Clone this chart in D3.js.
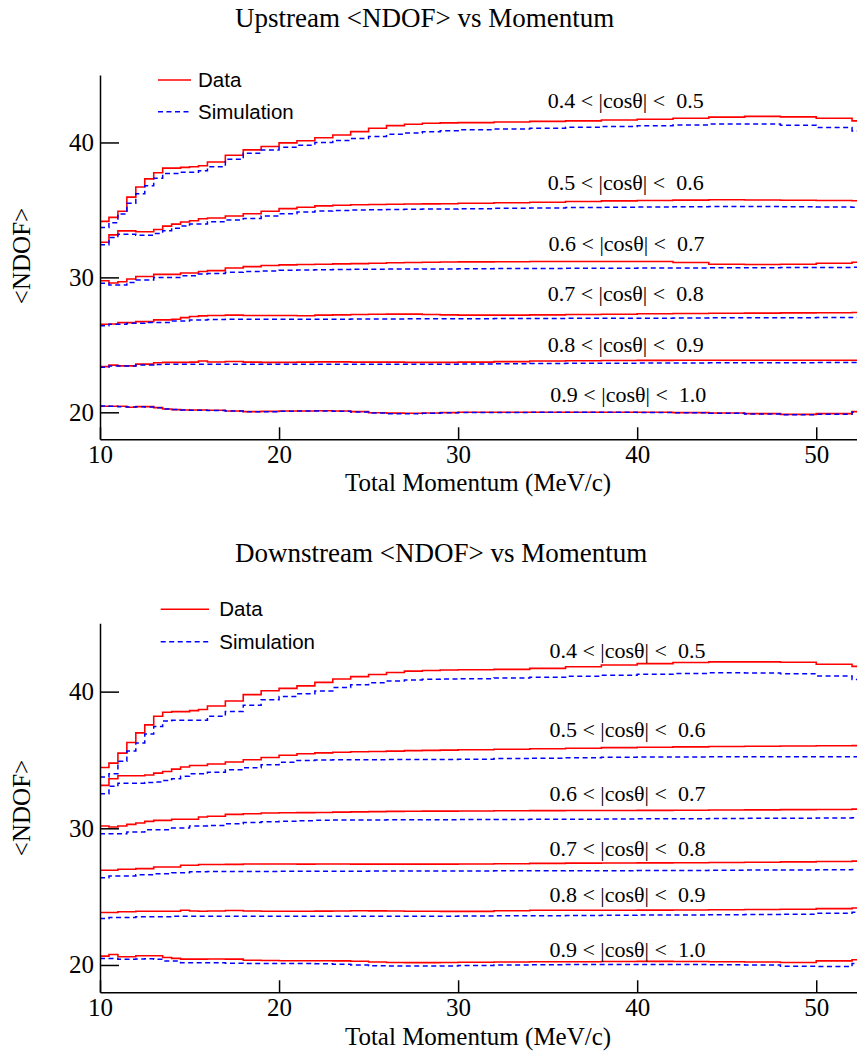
<!DOCTYPE html>
<html><head><meta charset="utf-8">
<script src="https://cdn.jsdelivr.net/npm/d3@7/dist/d3.min.js"></script>
<style>body{margin:0;background:#fff}svg text{white-space:pre}</style>
</head><body>
<svg id="c" width="857" height="1053"></svg>
<script>
// ---------- data ----------
const binEdges = [10,10.5,11,11.5,12,12.5,13,13.5,14,14.5,15,15.5,16,17,18,19,20,21,22,23,24,25,26,27,28,29,30,32,34,36,38,40,42,44,46,48,50,52,52.5];
const categories = ["0.4 < |cosθ| <  0.5","0.5 < |cosθ| <  0.6","0.6 < |cosθ| <  0.7","0.7 < |cosθ| <  0.8","0.8 < |cosθ| <  0.9","0.9 < |cosθ| <  1.0"];
const seriesNames = ["Data","Simulation"];
const xTicks = [10,20,30,40,50];
const yTicks = [20,30,40];
const labelYUp = [42.55,36.45,31.92,28.28,24.5,20.8];
const labelYDown = [42.45,36.7,32.0,27.95,24.6,20.6];

const up_data_04 = [34.15,34.45,34.9,35.95,36.7,37.3,37.75,38.1,38.1,38.15,38.2,38.27,38.55,39.05,39.45,39.7,39.97,40.13,40.35,40.55,40.8,41.05,41.25,41.35,41.42,41.45,41.47,41.52,41.56,41.6,41.66,41.72,41.8,41.88,41.93,41.9,41.8,41.6];
const up_sim_04  = [33.7,34.05,34.7,35.5,36.2,36.8,37.35,37.7,37.7,37.8,37.8,37.9,38.2,38.75,39.2,39.45,39.65,39.8,40.0,40.15,40.3,40.45,40.6,40.7,40.8,40.87,40.95,41.0,41.06,41.12,41.18,41.24,41.3,41.36,41.36,41.28,41.1,40.85];
const up_data_05 = [32.6,33.15,33.45,33.45,33.38,33.38,33.55,33.8,33.95,34.1,34.2,34.35,34.4,34.55,34.72,34.9,35.1,35.2,35.3,35.35,35.38,35.4,35.42,35.44,35.45,35.46,35.5,35.53,35.57,35.62,35.67,35.7,35.73,35.75,35.74,35.72,35.7,35.68];
const up_sim_05  = [32.42,32.96,33.2,33.2,33.13,33.13,33.26,33.46,33.65,33.8,33.95,33.95,34.12,34.25,34.37,34.55,34.72,34.85,34.92,34.96,35.0,35.02,35.04,35.05,35.06,35.07,35.09,35.12,35.15,35.18,35.2,35.22,35.24,35.25,35.25,35.23,35.21,35.2];
const up_data_06 = [29.75,29.58,29.68,29.88,30.07,30.07,30.22,30.22,30.22,30.32,30.32,30.44,30.5,30.7,30.8,30.88,30.93,30.95,30.97,31.0,31.02,31.05,31.08,31.1,31.12,31.14,31.15,31.16,31.18,31.18,31.18,31.18,31.1,30.97,30.95,30.97,31.05,31.12];
const up_sim_06  = [29.56,29.43,29.43,29.63,29.8,29.8,30.0,30.0,30.0,30.12,30.12,30.25,30.28,30.38,30.43,30.47,30.52,30.54,30.56,30.58,30.6,30.61,30.62,30.62,30.63,30.63,30.64,30.65,30.66,30.67,30.68,30.69,30.7,30.71,30.72,30.73,30.74,30.75];
const up_data_07 = [26.53,26.55,26.65,26.65,26.72,26.72,26.85,26.85,26.9,27.02,27.1,27.15,27.17,27.2,27.18,27.18,27.17,27.16,27.2,27.22,27.25,27.27,27.28,27.28,27.25,27.22,27.2,27.2,27.22,27.25,27.27,27.3,27.32,27.34,27.35,27.37,27.38,27.4];
const up_sim_07  = [26.42,26.53,26.53,26.6,26.6,26.65,26.65,26.65,26.77,26.77,26.85,26.85,26.88,26.9,26.9,26.9,26.9,26.9,26.9,26.9,26.91,26.92,26.92,26.93,26.93,26.93,26.94,26.95,26.96,26.97,26.98,26.98,26.99,27.0,27.0,27.01,27.02,27.03];
const up_data_08 = [23.39,23.5,23.44,23.44,23.57,23.57,23.67,23.7,23.7,23.7,23.72,23.8,23.73,23.77,23.72,23.7,23.7,23.72,23.74,23.74,23.72,23.72,23.72,23.7,23.7,23.7,23.72,23.76,23.8,23.82,23.84,23.85,23.86,23.86,23.86,23.86,23.86,23.86];
const up_sim_08  = [23.34,23.44,23.44,23.44,23.5,23.5,23.55,23.57,23.57,23.57,23.57,23.57,23.57,23.57,23.57,23.57,23.57,23.57,23.57,23.57,23.57,23.57,23.57,23.57,23.57,23.57,23.58,23.6,23.62,23.63,23.64,23.65,23.66,23.67,23.68,23.68,23.69,23.7];
const up_data_09 = [20.45,20.45,20.45,20.38,20.42,20.42,20.35,20.25,20.2,20.17,20.17,20.17,20.15,20.1,20.05,20.07,20.1,20.1,20.12,20.1,20.05,19.97,19.94,19.93,19.95,19.98,20.0,20.0,20.0,20.0,20.0,20.0,19.98,19.95,19.9,19.85,19.9,20.05];
const up_sim_09  = [20.47,20.45,20.42,20.4,20.42,20.4,20.33,20.25,20.2,20.17,20.15,20.15,20.13,20.1,20.05,20.05,20.08,20.1,20.1,20.08,20.02,19.95,19.9,19.9,19.93,19.96,19.98,19.99,20.0,20.0,20.0,19.99,19.97,19.93,19.88,19.82,19.85,20.02];

const dn_data_04 = [34.45,34.77,35.5,36.28,36.98,37.57,38.2,38.49,38.54,38.54,38.61,38.69,38.95,39.32,39.78,40.06,40.24,40.42,40.68,40.92,41.1,41.25,41.4,41.5,41.55,41.58,41.6,41.63,41.7,41.82,41.95,42.05,42.13,42.18,42.18,42.15,42.0,41.85];
const dn_sim_04  = [33.75,34.0,34.9,35.65,36.25,36.9,37.45,37.85,37.9,37.9,37.9,37.9,38.2,38.55,39.0,39.4,39.65,39.85,40.05,40.3,40.5,40.65,40.77,40.85,40.9,40.92,40.95,41.0,41.05,41.12,41.2,41.27,41.33,41.38,41.37,41.3,41.15,40.88];
const dn_data_05 = [33.14,33.63,33.84,33.84,33.84,33.9,34.04,34.16,34.33,34.48,34.6,34.6,34.7,34.85,35.02,35.18,35.35,35.45,35.52,35.56,35.6,35.62,35.65,35.68,35.7,35.72,35.75,35.78,35.82,35.86,35.9,35.93,35.96,35.98,36.0,36.02,36.04,36.05];
const dn_sim_05  = [32.53,33.07,33.3,33.3,33.3,33.35,33.38,33.5,33.63,33.8,33.99,33.99,34.11,34.28,34.43,34.65,34.84,34.96,35.0,35.01,35.02,35.02,35.03,35.03,35.03,35.04,35.06,35.1,35.13,35.16,35.19,35.21,35.22,35.23,35.24,35.24,35.24,35.24];
const dn_data_06 = [30.17,30.1,30.17,30.29,30.39,30.51,30.58,30.58,30.66,30.66,30.66,30.83,30.88,31.02,31.07,31.12,31.14,31.15,31.16,31.18,31.2,31.22,31.24,31.25,31.26,31.26,31.27,31.28,31.29,31.3,31.3,31.31,31.32,31.34,31.35,31.37,31.38,31.4];
const dn_sim_06  = [29.61,29.61,29.61,29.73,29.73,29.9,29.9,29.9,30.02,30.02,30.17,30.17,30.2,30.34,30.42,30.48,30.52,30.56,30.58,30.6,30.6,30.61,30.62,30.62,30.63,30.63,30.64,30.65,30.66,30.67,30.68,30.69,30.7,30.72,30.73,30.74,30.76,30.77];
const dn_data_07 = [26.93,26.93,27.0,27.0,27.05,27.05,27.17,27.17,27.17,27.3,27.3,27.35,27.35,27.36,27.39,27.39,27.39,27.38,27.39,27.39,27.38,27.38,27.38,27.38,27.38,27.38,27.39,27.41,27.43,27.45,27.46,27.47,27.48,27.5,27.52,27.54,27.57,27.6];
const dn_sim_07  = [26.39,26.51,26.51,26.51,26.6,26.6,26.68,26.68,26.75,26.75,26.82,26.82,26.83,26.84,26.84,26.84,26.85,26.85,26.86,26.86,26.86,26.87,26.87,26.87,26.88,26.88,26.88,26.89,26.89,26.9,26.9,26.91,26.92,26.93,26.94,26.95,26.96,26.98];
const dn_data_08 = [23.84,23.84,23.89,23.89,23.93,23.93,23.93,23.93,23.93,24.0,23.95,23.93,23.95,23.98,23.95,23.93,23.93,23.93,23.94,23.95,23.97,23.96,23.95,23.93,23.93,23.92,23.92,23.97,24.0,24.0,24.0,24.01,24.02,24.04,24.06,24.08,24.12,24.17];
const dn_sim_08  = [23.4,23.47,23.47,23.47,23.52,23.52,23.52,23.52,23.57,23.57,23.57,23.57,23.57,23.57,23.57,23.57,23.57,23.57,23.57,23.57,23.57,23.57,23.57,23.57,23.57,23.57,23.58,23.6,23.61,23.62,23.64,23.65,23.66,23.68,23.7,23.72,23.78,23.85];
const dn_data_09 = [20.65,20.77,20.6,20.6,20.67,20.67,20.67,20.55,20.48,20.43,20.43,20.43,20.44,20.43,20.35,20.33,20.31,20.31,20.31,20.3,20.27,20.22,20.18,20.17,20.17,20.18,20.2,20.22,20.23,20.24,20.25,20.26,20.25,20.24,20.22,20.18,20.3,20.38];
const dn_sim_09  = [20.48,20.48,20.41,20.41,20.43,20.45,20.41,20.29,20.29,20.17,20.17,20.17,20.17,20.12,20.1,20.1,20.1,20.1,20.08,20.05,20.0,19.95,19.93,19.92,19.92,19.93,19.97,20.0,20.02,20.04,20.04,20.04,20.03,20.02,20.0,19.9,19.88,20.1];

// ---------- layout ----------
const SERIF = "'Liberation Serif','Times New Roman',serif";
const SANS = "'Liberation Sans',Arial,sans-serif";
const RED = "#ff0000", BLUE = "#0000ff";

const panels = [
  {title:"Upstream <NDOF> vs Momentum", titleX:235, titleY:27, yTop:75, yBot:439.3,
   leg:{x1:158,x2:191,tx:198,y1:80,y2:111.7}, yTitleCY:256, xTitleY:491,
   data:[up_data_04,up_data_05,up_data_06,up_data_07,up_data_08,up_data_09],
   sim:[up_sim_04,up_sim_05,up_sim_06,up_sim_07,up_sim_08,up_sim_09], labelY:labelYUp, labelX:[35.0,35.0,35.05,35.0,35.0,35.15]},
  {title:"Downstream <NDOF> vs Momentum", titleX:235, titleY:562, yTop:623.3, yBot:992.3,
   leg:{x1:160.7,x2:209,tx:219.3,y1:609.3,y2:641.7}, yTitleCY:808, xTitleY:1045,
   data:[dn_data_04,dn_data_05,dn_data_06,dn_data_07,dn_data_08,dn_data_09],
   sim:[dn_sim_04,dn_sim_05,dn_sim_06,dn_sim_07,dn_sim_08,dn_sim_09], labelY:labelYDown, labelX:[35.1,35.1,35.1,35.1,35.1,35.1]}
];

const svg = d3.select("#c");

panels.forEach(p => {
  const g = svg.append("g");
  const x = d3.scaleLinear().domain([10,52.5]).range([100,861]);
  const y = d3.scaleLinear().domain([18,45]).range([p.yBot,p.yTop]);

  const stepLine = d3.line().curve(d3.curveStepAfter).x(d=>x(d[0])).y(d=>y(d[1]));
  const toPts = vals => { const pts = vals.map((v,i)=>[binEdges[i],v]); pts.push([binEdges[binEdges.length-1], vals[vals.length-1]]); return pts; };

  // histograms
  p.data.forEach((vals,i) => {
    g.append("path").attr("d", stepLine(toPts(vals))).attr("fill","none")
      .attr("stroke",RED).attr("stroke-width",1.6);
    g.append("path").attr("d", stepLine(toPts(p.sim[i]))).attr("fill","none")
      .attr("stroke",BLUE).attr("stroke-width",1.5).attr("stroke-dasharray","5,3.5");
  });

  // axes
  const ya = g.append("g").attr("transform","translate(100,0)")
    .call(d3.axisLeft(y).tickValues(yTicks).tickSizeInner(-19).tickSizeOuter(0).tickPadding(6).tickFormat(d3.format("d")));
  const xa = g.append("g").attr("transform",`translate(0,${p.yBot})`)
    .call(d3.axisBottom(x).tickValues(xTicks).tickSizeInner(-12).tickSizeOuter(0).tickPadding(6).tickFormat(d3.format("d")));
  [ya,xa].forEach(a => {
    a.selectAll("path,line").attr("stroke","#000").attr("stroke-width",1.5);
    a.selectAll("text").attr("font-family",SERIF).attr("font-size",25).attr("fill","#000");
  });

  // category labels
  categories.forEach((c,i) => {
    g.append("text").attr("x", x(p.labelX[i])).attr("y", y(p.labelY[i]))
      .attr("font-family",SERIF).attr("font-size",22).attr("fill","#000").text(c);
  });

  // titles
  g.append("text").attr("x",p.titleX).attr("y",p.titleY).attr("font-family",SERIF)
    .attr("font-size",27).attr("fill","#000").text(p.title);
  g.append("text").attr("x",478).attr("y",p.xTitleY).attr("text-anchor","middle")
    .attr("font-family",SERIF).attr("font-size",25).attr("fill","#000").text("Total Momentum (MeV/c)");
  g.append("text").attr("transform",`translate(30,${p.yTitleCY}) rotate(-90)`).attr("text-anchor","middle")
    .attr("font-family",SERIF).attr("font-size",25).attr("fill","#000").text("<NDOF>");

  // legend
  const L = p.leg;
  g.append("line").attr("x1",L.x1).attr("x2",L.x2).attr("y1",L.y1).attr("y2",L.y1).attr("stroke",RED).attr("stroke-width",1.6);
  g.append("line").attr("x1",L.x1).attr("x2",L.x2).attr("y1",L.y2).attr("y2",L.y2).attr("stroke",BLUE).attr("stroke-width",1.5).attr("stroke-dasharray","5,3.5");
  g.append("text").attr("x",L.tx).attr("y",L.y1+7).attr("font-family",SANS).attr("font-size",20.5).attr("fill","#000").text(seriesNames[0]);
  g.append("text").attr("x",L.tx).attr("y",L.y2+7).attr("font-family",SANS).attr("font-size",20.5).attr("fill","#000").text(seriesNames[1]);
});
</script>
</body></html>
